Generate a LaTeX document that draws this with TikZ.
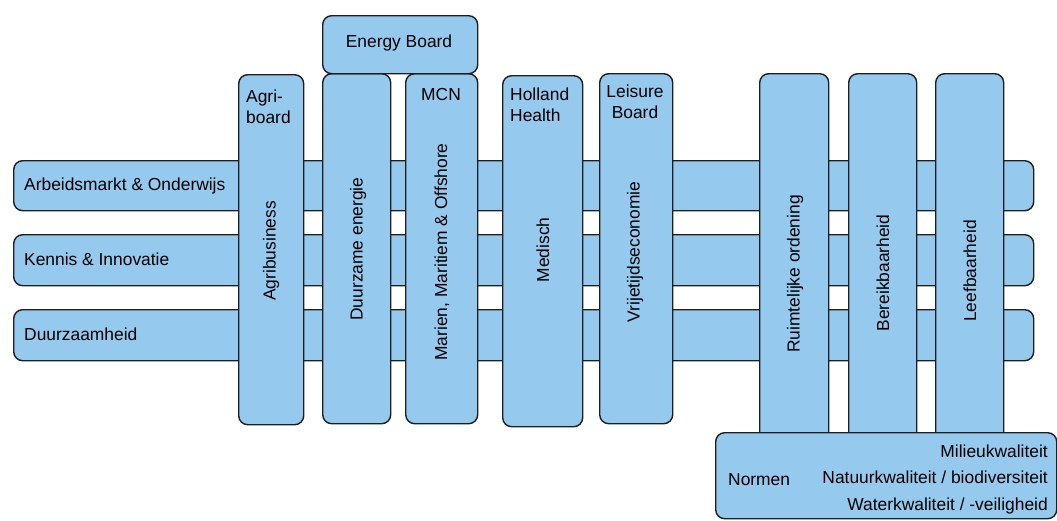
\documentclass[tikz,border=0pt]{standalone}
\usepackage{fontspec}
\setmainfont{Liberation Sans}
\usepackage{xcolor}

\definecolor{vlak}{HTML}{95C9EE}
\definecolor{rand}{HTML}{1E1E1E}

\begin{document}
\begin{tikzpicture}[x=1pt,y=-1pt,
  blok/.style={draw=rand, fill=vlak, line width=1.4pt, rounded corners=9pt, inner sep=0pt, anchor=north west},
  tekst/.style={font=\fontsize{17.4}{21}\selectfont, inner sep=0pt}]
\useasboundingbox (0,0) rectangle (1057,520);

\node[blok, minimum width=1020pt, minimum height=50pt] (arbeid) at (13,160) {};
\node[blok, minimum width=1020pt, minimum height=51pt] (kennis) at (13,234) {};
\node[blok, minimum width=1020pt, minimum height=51pt] (duurzaam) at (13,309) {};

\node[tekst, anchor=base west] (arbeidtxt) at (24,190) {Arbeidsmarkt \& Onderwijs};
\node[tekst, anchor=base west] (kennistxt) at (24,265) {Kennis \& Innovatie};
\node[tekst, anchor=base west] (duurzaamtxt) at (24,340) {Duurzaamheid};

\node[blok, minimum width=65pt, minimum height=350pt] (agri) at (238,74) {};
\node[blok, minimum width=68pt, minimum height=350pt] (energie) at (322,73) {};
\node[blok, minimum width=72pt, minimum height=350pt] (mcn) at (405,73) {};
\node[blok, minimum width=80pt, minimum height=351pt] (holland) at (502,75) {};
\node[blok, minimum width=73pt, minimum height=350pt] (leisure) at (599,73) {};
\node[blok, minimum width=69pt, minimum height=372pt] (ruimte) at (759,73) {};
\node[blok, minimum width=68pt, minimum height=372pt] (bereik) at (848,73) {};
\node[blok, minimum width=68pt, minimum height=372pt] (leef) at (935,73) {};

\node[blok, minimum width=155pt, minimum height=58pt] (energyboard) at (322,15) {};
\node[blok, minimum width=341pt, minimum height=86pt] (normen) at (715,432) {};

\node[tekst, anchor=base] (energyboardtxt) at (399,47) {Energy Board};
\node[tekst, anchor=north west, align=left] (agritop) at (246,89.5) {Agri-\\board};
\node[tekst, anchor=base] (mcntop) at (441,100) {MCN};
\node[tekst, anchor=north west, align=left] (hollandtop) at (510,87.5) {Holland\\Health};
\node[tekst, anchor=north, align=center] (leisuretop) at (635,84.5) {Leisure\\Board};

\node[tekst, rotate=90] (agritxt) at (271,251) {Agribusiness};
\node[tekst, rotate=90] (energietxt) at (358,249) {Duurzame energie};
\node[tekst, rotate=90] (mcntxt) at (442,252) {Marien, Maritiem \& Offshore};
\node[tekst, rotate=90] (hollandtxt) at (543,250) {Medisch};
\node[tekst, rotate=90] (leisuretxt) at (635,252) {Vrijetijdseconomie};
\node[tekst, rotate=90] (ruimtetxt) at (795,274) {Ruimtelijke ordening};
\node[tekst, rotate=90] (bereiktxt) at (883,273) {Bereikbaarheid};
\node[tekst, rotate=90] (leeftxt) at (970,271) {Leefbaarheid};

\node[tekst, anchor=base west] (normentxt) at (728,485) {Normen};
\node[tekst, anchor=north east, align=right, font=\fontsize{17.4}{26.5}\selectfont] (normenlijst) at (1048,444.5)
  {Milieukwaliteit\\Natuurkwaliteit / biodiversiteit\\Waterkwaliteit / -veiligheid};
\end{tikzpicture}
\end{document}
